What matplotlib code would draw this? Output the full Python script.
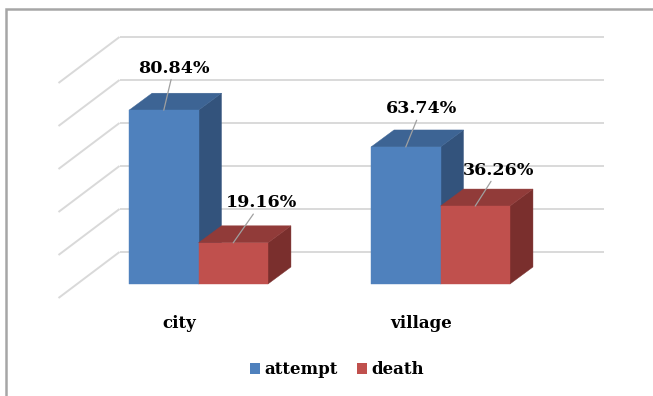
import matplotlib
matplotlib.use("Agg")
import matplotlib.pyplot as plt
from matplotlib.patches import Polygon, Patch, Rectangle

# ---- data ----
categories = ["city", "village"]
series_names = ["attempt", "death"]
attempt = [80.84, 63.74]
death = [19.16, 36.26]
label_texts = [["80.84%", "63.74%"], ["19.16%", "36.26%"]]
grid_values = [0, 20, 40, 60, 80, 100]

# ---- styling / layout ----
W, H, DPI = 653, 396, 100
FONT = "DejaVu Serif"
PX_PER_CAT = 242.0        # pixels between category centres
PX_PER_PCT = 2.15         # pixels per percentage point
ORIGIN = (198.5, 284.0)   # pixel position of first category centre at value 0 (from top-left)
BAR_W = 0.287             # bar width in category units

front_cols = ["#4F81BD", "#C0504D"]
top_cols = ["#3D6494", "#913B39"]
side_cols = ["#33537C", "#7A2F2D"]
grid_col = "#D9D9D9"

# depth offsets in pixels (x right, y up)
BAR_DEPTH = (23, 17)
WALL_OFF = (42, 32)
FLOOR_FRONT = (-19, -14)

# per-label offsets (pixels) of label centre from the bar's front-top centre
label_offsets = [[(10, 42), (15.5, 38)], [(28, 40), (23, 36)]]


def d(px):
    """pixel offset -> data offset"""
    return px[0] / PX_PER_CAT, px[1] / PX_PER_PCT


fig = plt.figure(figsize=(W / DPI, H / DPI), dpi=DPI)
ax = fig.add_axes([0, 0, 1, 1])
ax.set_xlim(-ORIGIN[0] / PX_PER_CAT, (W - ORIGIN[0]) / PX_PER_CAT)
ax.set_ylim((ORIGIN[1] - H) / PX_PER_PCT, ORIGIN[1] / PX_PER_PCT)
ax.axis("off")

bdx, bdy = d(BAR_DEPTH)
wdx, wdy = d(WALL_OFF)
fdx, fdy = d(FLOOR_FRONT)
x_lo, x_hi = -0.5, len(categories) - 0.5

# back wall gridlines and side wall diagonals
for v in grid_values:
    ax.plot([x_lo + wdx, x_hi + wdx], [v + wdy, v + wdy], color=grid_col, lw=1.4, zorder=1,
            solid_capstyle="butt")
    ax.plot([x_lo + fdx, x_lo + wdx], [v + fdy, v + wdy], color=grid_col, lw=1.4, zorder=1,
            solid_capstyle="butt")


def bar3d(x0, h, k, z):
    x1 = x0 + BAR_W
    front = [(x0, 0), (x1, 0), (x1, h), (x0, h)]
    top = [(x0, h), (x1, h), (x1 + bdx, h + bdy), (x0 + bdx, h + bdy)]
    side = [(x1, 0), (x1 + bdx, bdy), (x1 + bdx, h + bdy), (x1, h)]
    for pts, c in ((side, side_cols[k]), (top, top_cols[k]), (front, front_cols[k])):
        ax.add_patch(Polygon(pts, closed=True, facecolor=c, edgecolor=c, lw=0.3, zorder=z))


series = [attempt, death]
for i, cat in enumerate(categories):
    for k, vals in enumerate(series):
        x0 = i - BAR_W + k * BAR_W
        bar3d(x0, vals[i], k, 3 + k)

# data labels with leader lines
for i in range(len(categories)):
    for k, vals in enumerate(series):
        x0 = i - BAR_W + k * BAR_W
        xc = x0 + BAR_W / 2
        ax.annotate(label_texts[k][i], xy=(xc, vals[i]), xytext=label_offsets[k][i],
                    textcoords="offset pixels", ha="center", va="center",
                    fontsize=12.6, fontweight="bold", family=FONT, color="#000000", zorder=10,
                    arrowprops=dict(arrowstyle="-", color="#A0A0A0", lw=0.9,
                                    shrinkA=0, shrinkB=0, relpos=(0.5, 0.5)))

# category labels along the floor front
for i, cat in enumerate(categories):
    ax.annotate(cat, xy=(i + fdx, fdy), xytext=(0, -25), textcoords="offset pixels",
                ha="center", va="center", fontsize=12, fontweight="bold", family=FONT)

# legend
handles = [Patch(facecolor=front_cols[k], edgecolor="none", label=series_names[k]) for k in range(2)]
fig.legend(handles=handles, loc="center", bbox_to_anchor=(337 / W, 1 - 370 / H), ncol=2,
           frameon=False, prop=dict(family=FONT, weight="bold", size=12),
           handlelength=0.6, handleheight=0.6, handletextpad=0.3, columnspacing=1.1)

# chart frame (top and left edges visible)
fig.add_artist(Rectangle((6 / W, -0.1), 1.2, 1.1 - 9 / H, transform=fig.transFigure,
                         facecolor="none", edgecolor="#A6A6A6", lw=1.8, zorder=0))

fig.savefig("out.png", dpi=DPI)
